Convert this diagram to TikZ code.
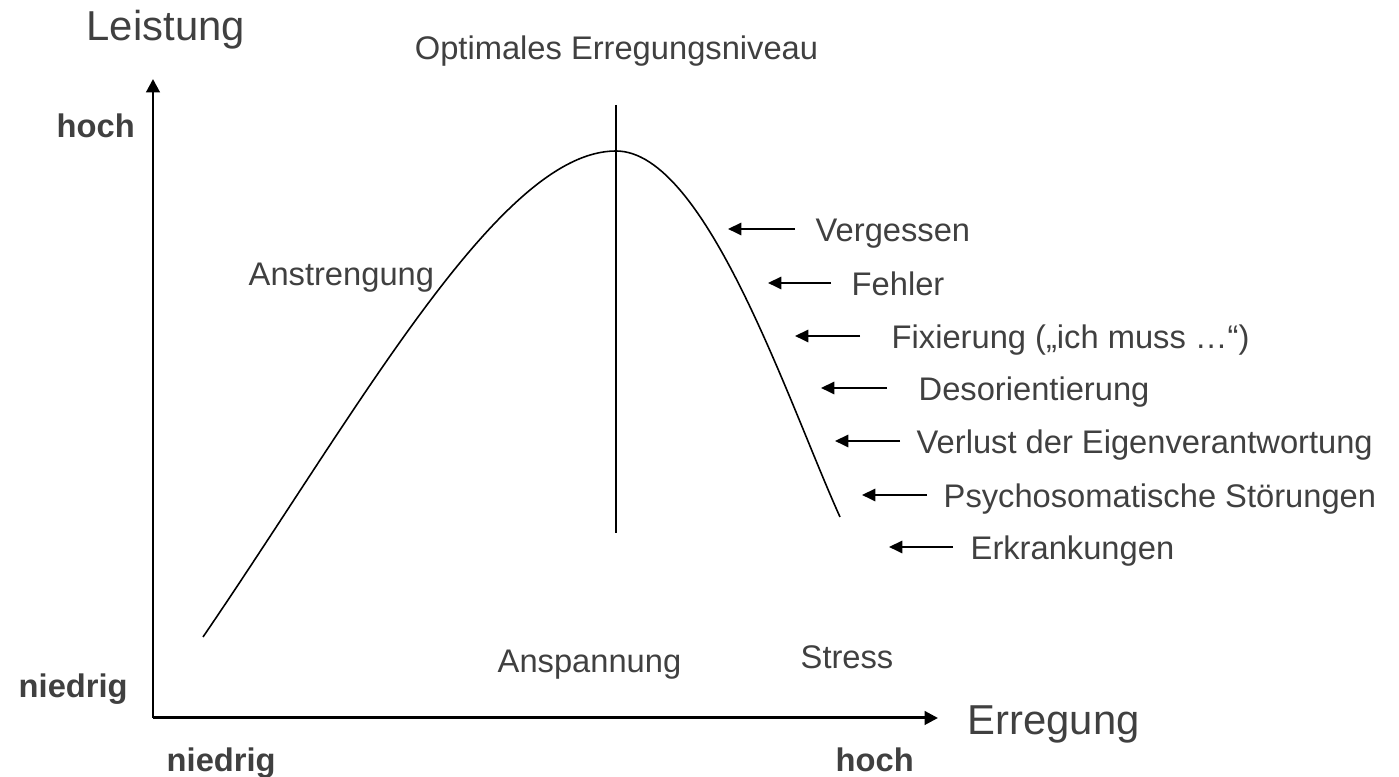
\documentclass[tikz,border=0pt]{standalone}
\usepackage{fontspec}
\setmainfont{Liberation Sans}
\usepackage{tikz}
\usetikzlibrary{positioning, calc, arrows.meta}
\definecolor{textgray}{HTML}{404040}

\begin{document}
\begin{tikzpicture}[
        label/.style={text=textgray, inner sep=0pt, text height=0.716em, text depth=0pt, font=\fontsize{9.3}{11}\selectfont},
        axislabel/.style={label, font=\fontsize{11.9}{14}\selectfont},
        levellabel/.style={label, font=\fontsize{9.3}{11}\selectfont\bfseries},
        effect/.style={label, anchor=west, inner xsep=0.2cm},
        axis/.style={line width=0.85pt, -{Triangle[length=3.8pt, width=3.8pt]}},
        curve/.style={line width=0.45pt},
        effectarrow/.style={line width=0.6pt, -{Triangle[length=3.8pt, width=3.5pt]}}
    ]
        \useasboundingbox (0,0) rectangle (13.99,7.77);

        % axes
        \coordinate (origin) at (1.53,0.59);
        \coordinate (yTip) at (1.53,6.98);
        \coordinate (xTip) at (9.38,0.59);
        \draw[axis] (origin) -- (yTip);
        \draw[axis] (origin) -- (xTip);

        \node[axislabel, anchor=west] (leistung) at (0.86,7.49) {Leistung};
        \node[axislabel, anchor=west] (erregung) at (9.67,0.55) {Erregung};
        \node[levellabel, anchor=west] (yHigh) at (0.56,6.52) {hoch};
        \node[levellabel, anchor=west] (yLow) at (0.18,0.92) {niedrig};
        \node[levellabel, anchor=west] (xLow) at (1.66,0.18) {niedrig};
        \node[levellabel, anchor=west] (xHigh) at (8.35,0.18) {hoch};

        % curve and optimum
        \coordinate (curveStart) at (2.03,1.40);
        \coordinate (peak) at (6.16,6.26);
        \coordinate (curveEnd) at (8.40,2.60);
        \draw[curve] (curveStart) .. controls (3.6,3.7) and (5.0,6.26) .. (peak)
            .. controls (7.06,6.26) and (7.88,3.75) .. (curveEnd);
        \coordinate (optTop) at (6.16,6.72);
        \coordinate (optBottom) at (6.16,2.44);
        \draw[curve] (optTop) -- (optBottom);
        \node[label] (optimum) at (6.165,7.30) {Optimales Erregungsniveau};

        \node[label, anchor=west] (anstrengung) at (2.48,5.04) {Anstrengung};
        \node[label, anchor=west] (anspannung) at (4.97,1.17) {Anspannung};
        \node[label, anchor=west] (stress) at (8.00,1.21) {Stress};

        % consequences
        \node[effect] (vergessen) at (7.95,5.48) {Vergessen};
        \node[effect] (fehler) at (8.31,4.94) {Fehler};
        \node[effect, inner xsep=0.31cm] (fixierung) at (8.60,4.41) {Fixierung („ich muss …“)};
        \node[effect, inner xsep=0.31cm] (desorientierung) at (8.87,3.89) {Desorientierung};
        \node[effect, inner xsep=0.16cm] (verlust) at (9.00,3.36) {Verlust der Eigenverantwortung};
        \node[effect, inner xsep=0.16cm] (psycho) at (9.27,2.82) {Psychosomatische Störungen};
        \node[effect, inner xsep=0.17cm] (erkrankungen) at (9.53,2.30) {Erkrankungen};

        \coordinate (vergessenTip) at (7.28,5.48);
        \coordinate (fehlerTip) at (7.68,4.94);
        \coordinate (fixierungTip) at (7.95,4.41);
        \coordinate (desorientierungTip) at (8.21,3.89);
        \coordinate (verlustTip) at (8.35,3.36);
        \coordinate (psychoTip) at (8.62,2.82);
        \coordinate (erkrankungenTip) at (8.89,2.30);

        \draw[effectarrow] (vergessen.west) -- (vergessenTip);
        \draw[effectarrow] (fehler.west) -- (fehlerTip);
        \draw[effectarrow] (fixierung.west) -- (fixierungTip);
        \draw[effectarrow] (desorientierung.west) -- (desorientierungTip);
        \draw[effectarrow] (verlust.west) -- (verlustTip);
        \draw[effectarrow] (psycho.west) -- (psychoTip);
        \draw[effectarrow] (erkrankungen.west) -- (erkrankungenTip);
\end{tikzpicture}
\end{document}
